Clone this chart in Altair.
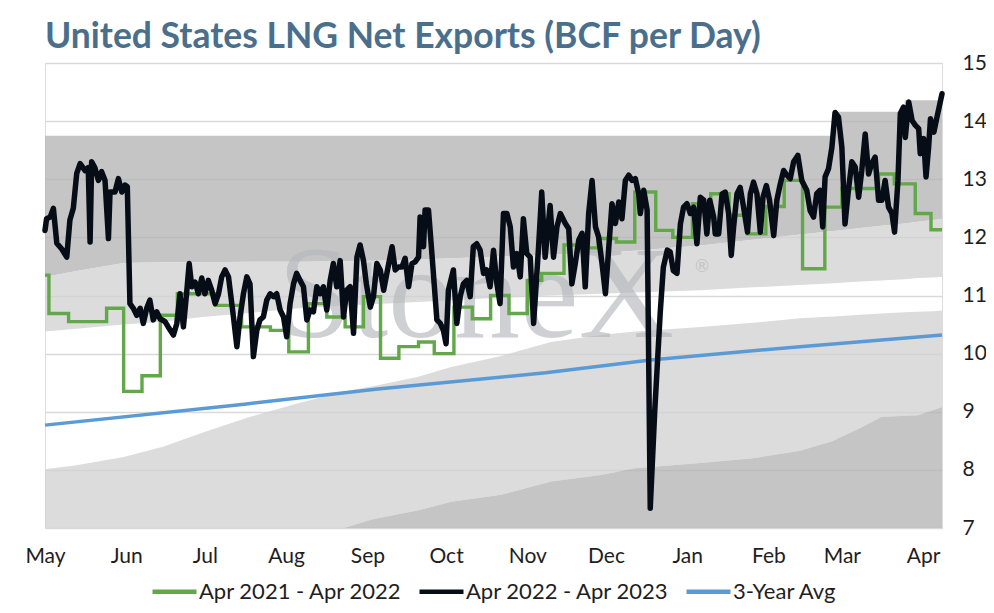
import altair as alt
import pandas as pd

START = pd.Timestamp("2022-05-01")

# ---- Apr 2022 - Apr 2023 (daily, days after May 1) ----
black_day = [0, 0.6, 2, 3.2, 4.5, 6.4, 8.3, 9.5, 10.8, 12.1, 13.4, 15.3, 16.5, 17.2, 17.8, 19, 20.4, 21.6, 22.9, 24.2,
             24.8, 26.7, 28, 29.3, 30.5, 31.4, 32.4, 33.7, 35, 36.3, 37.5, 38.8, 40, 41.3, 42.6, 43.9, 45.8, 47, 49, 50.3,
             51.5, 52.8, 54, 55, 56, 57.3, 58.5, 59.8, 61, 62.3, 63.6, 64.9, 66.2, 67.4, 68.7, 70, 71.9, 73.2, 74.4, 75.7,
             77, 78.2, 79.5, 80.8, 82, 83.3, 84.6, 85.9, 87.2, 88.4, 89.7, 91, 92.2, 93.5, 94.8, 96, 97.3, 98.6, 99.9, 101.1,
             102.4, 103.7, 105, 106.2, 107.5, 108.8, 110, 111.3, 112.6, 113.9, 115.1, 116.4, 117.7, 119, 120.2, 121.5, 122.6, 124.1,
             125.3, 126.6, 127.9, 129.2, 130.4, 132.4, 133.6, 134.9, 136.2, 137.4, 138.7, 140, 141.2, 142.5, 143.1, 144.4, 145, 146.3,
             147.6, 149.5, 150.8, 152, 153, 153.9, 155.8, 157.1, 158.4, 159.6, 160.9, 162.2, 163.4, 164.7, 166, 167.3, 168.5, 169.8,
             171.1, 172.4, 173.6, 174.9, 176.2, 177.5, 178.7, 180, 181.3, 182.5, 183.8, 185.1, 186.4, 188.3, 189.5, 190.8, 192.7, 194,
             195.3, 196.6, 198.5, 199.8, 201, 202.3, 203.6, 204.9, 206.1, 207.4, 208.7, 210, 211.2, 212.5, 213.8, 215.1, 216.3, 217.6,
             218.9, 220.1, 221.4, 222.7, 224, 225.2, 226.5, 227.1, 228.4, 229.7, 230.9, 232.6, 234.7, 235.9, 237.4, 238.5, 239.7, 241.1,
             242.4, 243.6, 244.9, 246.2, 247.5, 248.7, 250, 251.3, 252.5, 253.6, 255.1, 255.7, 257, 258.3, 259.5, 260.8, 261.8, 262.7,
             264, 265.2, 266.5, 268, 269.1, 270.3, 271.6, 272.9, 273.9, 275.2, 276.4, 278, 279.2, 280.5, 281.8, 283, 284.3, 285.6,
             287.2, 288.7, 290.6, 291.9, 293.2, 294.4, 295.7, 296.7, 297.6, 298.9, 300.2, 301.4, 302.7, 304, 305.2, 306.5, 307.8, 309.1,
             310.4, 311.6, 312.9, 314.2, 315.4, 316.7, 318, 319.3, 320.5, 321.8, 323.1, 324.1, 325.4, 326.3, 327.5, 328.2, 329.5, 330.8,
             332, 333.3, 333.9, 335.2, 336.1, 337.1, 337.8, 339.1, 340.3, 342.2]
black_val = [12.12, 12.32, 12.35, 12.5, 11.9, 11.8, 11.66, 12.3, 12.5, 13.1, 13.27, 13.15, 13.2, 11.92, 13.3, 13.2, 12.98, 13.13, 12.98, 11.98,
             12.78, 12.78, 13.01, 12.78, 12.9, 12.87, 10.86, 10.78, 10.66, 10.78, 10.52, 10.78, 10.92, 10.58, 10.72, 10.6, 10.55, 10.46, 10.32, 10.52,
             11.03, 10.46, 11.03, 11.55, 11.15, 11.23, 11.03, 11.3, 11.03, 11.26, 11.09, 10.86, 11.03, 11.32, 11.44, 11.32, 10.63, 10.12, 10.63, 11.03,
             11.32, 11.2, 9.95, 10.4, 10.58, 10.63, 10.92, 11.03, 10.98, 11.03, 10.75, 10.63, 10.29, 10.86, 11.2, 11.38, 11.26, 11.15, 10.58, 10.75,
             10.72, 11.15, 11.03, 11.15, 10.75, 11.26, 11.55, 11.15, 11.6, 10.63, 11.09, 11.15, 10.35, 11.66, 11.87, 11.6, 11.2, 10.8,
             10.98, 11.55, 11.44, 11.09, 11.38, 11.84, 11.44, 11.49, 11.49, 11.64, 11.15, 11.55, 11.58, 11.66, 12.35, 11.84, 12.47, 12.47,
             11.72, 10.58, 10.52, 10.4, 10.17, 11.09, 11.44, 10.52, 10.98, 11.2, 11.26, 10.98, 11.84, 11.89, 11.78, 11.38, 11.44, 11.15,
             11.78, 11.2, 10.86, 12.41, 12.41, 12.18, 11.49, 11.72, 11.32, 12.32, 11.72, 11.66, 10.52, 11.84, 12.78, 11.66, 12.55, 11.66,
             12.18, 12.41, 12.24, 12.15, 11.2, 11.55, 11.95, 12.07, 11.15, 12.41, 12.98, 12.18, 12.01, 11.55, 11.03, 11.84, 12.58, 12.24,
             12.61, 12.32, 12.98, 13.07, 12.98, 13.01, 12.75, 12.41, 12.81, 12.47, 7.34, 9.0, 10.7, 11.49, 11.78, 11.75, 11.43, 11.38,
             12.23, 12.52, 12.58, 12.41, 12.52, 11.89, 12.69, 12.64, 12.06, 12.64, 12.35, 12.06, 12.06, 12.75, 12.78, 12.41, 11.69, 12.18,
             12.75, 12.86, 12.52, 12.09, 12.75, 12.95, 12.75, 12.09, 12.69, 12.89, 12.64, 12.03, 12.64, 12.92, 13.15, 13.07, 13.01, 13.3,
             13.41, 12.98, 12.81, 12.46, 12.35, 12.75, 12.81, 12.18, 13.04, 13.18, 13.55, 14.15, 14.07, 13.55, 12.23, 12.81, 13.3, 13.21,
             12.69, 13.15, 13.78, 13.09, 13.27, 13.38, 12.64, 12.64, 12.98, 12.52, 12.41, 12.09, 12.98, 14.13, 14.24, 13.72, 14.33, 14.01,
             13.93, 13.87, 13.44, 13.7, 13.04, 13.55, 14.04, 13.81, 14.07, 14.47]

# ---- Apr 2021 - Apr 2022 (weekly steps) ----
green_day = [0, 1.5, 9, 23.5, 30, 37, 44, 50.5, 65, 75, 86, 93, 100.5, 107.5, 114.5, 121.5, 128, 135, 142.5, 148.5,
             156, 163, 170, 177, 184, 189.5, 198, 204.5, 211, 218, 225, 233, 239.5, 247, 254, 261, 268, 275, 282, 289,
             297.5, 304, 318, 324, 332, 338, 342.2]
green_val = [11.35, 10.69, 10.55, 10.78, 9.35, 9.62, 10.66, 11.03, 10.83, 10.46, 10.4, 10.03, 10.86, 10.63, 10.46, 10.98, 9.92, 10.12, 10.2, 10.0,
             10.8, 10.6, 11.0, 10.69, 11.26, 11.38, 11.87, 11.82, 11.98, 11.92, 12.78, 12.12, 12.0, 12.58, 12.75, 12.38, 12.06, 12.53, 12.98, 11.46,
             12.52, 12.84, 13.09, 12.92, 12.41, 12.13, 12.13]

# ---- 3-Year Avg ----
avg_day = [0, 76, 127, 191, 231, 288, 342.2]
avg_val = [8.77, 9.13, 9.39, 9.67, 9.89, 10.12, 10.32]

# ---- range bands ----
band_day = [0, 12, 30, 45, 60, 78, 97, 114, 125, 142, 155, 174, 193, 212, 225, 250, 270, 288, 300.9, 301, 311, 319, 327.9, 328, 333, 339, 342.2]
band_max = [13.75] * 19 + [14.16, 14.16, 14.16, 14.16, 14.36, 14.36, 14.36, 14.36]
band_hi = [11.32, 11.42, 11.56, 11.57, 11.57, 11.58, 11.58, 11.59, 11.6, 11.62, 11.64, 11.67, 11.7, 11.74, 11.77, 11.86, 11.96, 12.05, 12.11, 12.11,
           12.16, 12.2, 12.24, 12.24, 12.27, 12.3, 12.32]
band_mid = [10.38, 10.43, 10.5, 10.55, 10.63, 10.7, 10.78, 10.83, 10.85, 10.89, 10.92, 10.96, 11.0, 11.03, 11.05, 11.09, 11.14, 11.18, 11.21, 11.21,
            11.24, 11.26, 11.28, 11.28, 11.3, 11.31, 11.32]
band_lo = [8.01, 8.08, 8.22, 8.4, 8.64, 8.91, 9.15, 9.35, 9.44, 9.6, 9.77, 9.96, 10.2, 10.32, 10.38, 10.46, 10.53, 10.61, 10.64, 10.64,
           10.67, 10.69, 10.71, 10.71, 10.72, 10.73, 10.74]
band_min = [7.0, 7.0, 7.0, 7.0, 7.0, 7.0, 7.0, 7.0, 7.15, 7.3, 7.45, 7.57, 7.8, 7.91, 8.03, 8.12, 8.2, 8.33, 8.5, 8.51,
            8.72, 8.91, 8.93, 8.93, 8.94, 9.03, 9.08]

S1, S2, S3 = "Apr 2021 - Apr 2022", "Apr 2022 - Apr 2023", "3-Year Avg"


def to_dates(days):
    return START + pd.to_timedelta(days, unit="D")


black_df = pd.DataFrame({"date": to_dates(black_day), "value": black_val, "series": S2})
green_df = pd.DataFrame({"date": to_dates(green_day), "value": green_val, "series": S1})
avg_df = pd.DataFrame({"date": to_dates(avg_day), "value": avg_val, "series": S3})
band_df = pd.DataFrame({"date": to_dates(band_day), "max": band_max, "hi": band_hi, "mid": band_mid,
                        "lo": band_lo, "min": band_min, "base": 7.0})

FONT = "Lato"
month_vals = [alt.DateTime(year=2022, month=m, date=1) for m in range(5, 13)] + \
             [alt.DateTime(year=2023, month=m, date=1) for m in range(1, 5)]

x_enc = alt.X("date:T",
              scale=alt.Scale(domain=[alt.DateTime(year=2022, month=5, date=1),
                                      alt.DateTime(year=2023, month=4, date=8, hours=4, minutes=48)]),
              axis=alt.Axis(values=month_vals, format="%b", title=None, grid=False, domain=False, ticks=False,
                            labelPadding=17, labelFontSize=21, labelFont=FONT, labelColor="#1e1e1e",
                            labelFlush=False, labelOverlap=False))
y_axis = alt.Axis(orient="right", values=list(range(7, 16)), title=None, domain=False, ticks=False,
                  grid=True, gridColor="#d9d9d9", gridWidth=1.5, labelPadding=20, labelFontSize=21,
                  labelFont=FONT, labelColor="#1e1e1e", labelAlign="left")
y_scale = alt.Scale(domain=[7, 15], nice=False, zero=False)

DARK = "#b5b4b3"
LIGHT = "#d2d2d2"
OP = 0.77

base_band = alt.Chart(band_df)
band_top = base_band.mark_area(color=DARK, opacity=OP).encode(
    x=x_enc, y=alt.Y("max:Q", scale=y_scale, axis=y_axis), y2="hi:Q")
band_upper_light = base_band.mark_area(color=LIGHT, opacity=OP).encode(
    x=x_enc, y=alt.Y("hi:Q", scale=y_scale, axis=y_axis), y2="mid:Q")
band_lower_light = base_band.mark_area(color=LIGHT, opacity=OP).encode(
    x=x_enc, y=alt.Y("lo:Q", scale=y_scale, axis=y_axis), y2="min:Q")
band_bottom = base_band.mark_area(color=DARK, opacity=OP).encode(
    x=x_enc, y=alt.Y("min:Q", scale=y_scale, axis=y_axis), y2="base:Q")

wm_df = pd.DataFrame({"t": ["StoneX"]})
watermark = alt.Chart(wm_df).mark_text(font="Liberation Serif", fontSize=132, color="#b6b8bd", opacity=0.65,
                                       align="left", baseline="alphabetic").encode(
    text="t:N", x=alt.value(233), y=alt.value(274))
reg_df = pd.DataFrame({"t": ["®"]})
reg = alt.Chart(reg_df).mark_text(font="DejaVu Sans", fontSize=17, color="#b6b8bd", opacity=0.65,
                                  align="center", baseline="middle").encode(
    text="t:N", x=alt.value(657), y=alt.value(204))

color_scale = alt.Scale(domain=[S1, S2, S3], range=["#62a84a", "#070d17", "#5b9bd5"])
legend = alt.Legend(title=None, orient="none", legendX=105, legendY=504, direction="horizontal",
                    symbolType="stroke", symbolSize=1936, symbolStrokeWidth=4.5,
                    labelFontSize=22, labelFont=FONT, labelColor="#1e1e1e", labelOffset=0, labelLimit=500,
                    columnPadding=7, padding=0)
color_enc = alt.Color("series:N", scale=color_scale, legend=legend)
y_val = alt.Y("value:Q", scale=y_scale, axis=y_axis)

avg_line = alt.Chart(avg_df).mark_line(strokeWidth=3.5).encode(x=x_enc, y=y_val, color=color_enc)
green_line = alt.Chart(green_df).mark_line(strokeWidth=3.4, interpolate="step-after").encode(
    x=x_enc, y=y_val, color=color_enc)
black_line = alt.Chart(black_df).mark_line(strokeWidth=5.5, strokeJoin="round", strokeCap="round").encode(
    x=x_enc, y=y_val, color=color_enc)

chart = alt.layer(band_top, band_upper_light, band_lower_light, band_bottom, watermark, reg,
                  avg_line, green_line, black_line).properties(
    width=897, height=465,
    autosize=alt.AutoSizeParams(type="none"),
    padding={"left": 37, "top": 55, "right": 44, "bottom": 77},
    title=alt.TitleParams("United States LNG Net Exports (BCF per Day)", anchor="start", frame="group",
                          fontSize=35.5, font=FONT, fontWeight="bold", color="#4a6f8c", offset=-3),
).configure_view(stroke=None).configure(background="white")

chart.save("out.html", embed_options={"renderer": "svg", "actions": False})
